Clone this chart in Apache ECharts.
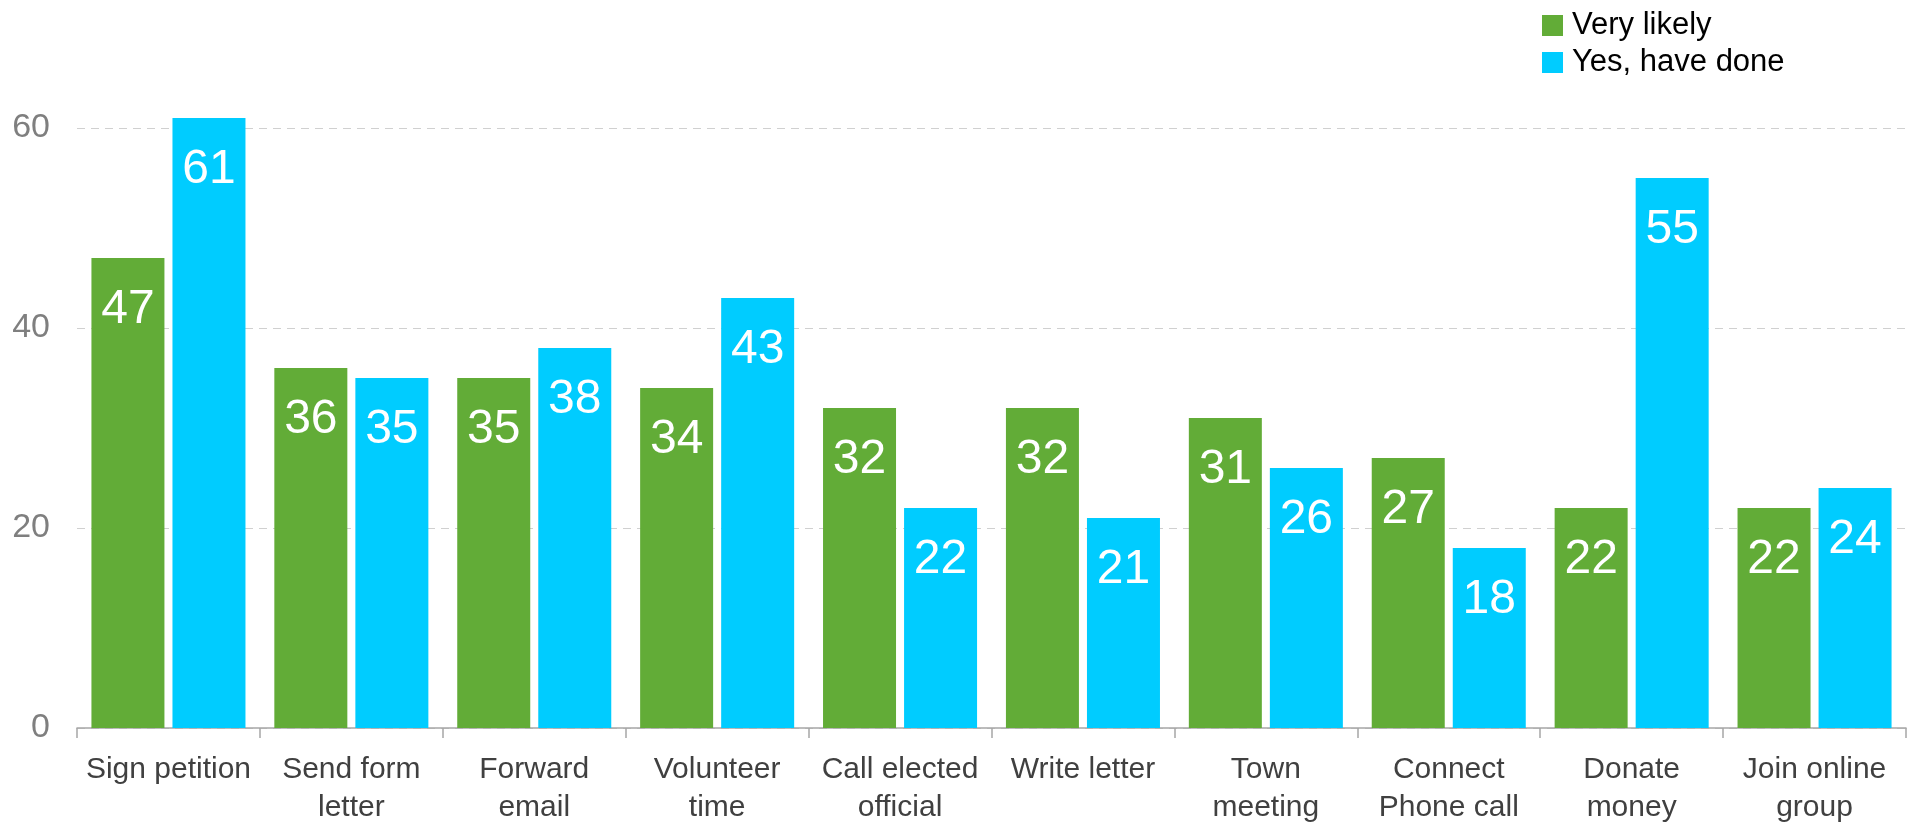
<!DOCTYPE html>
<html>
<head>
<meta charset="utf-8">
<script src="https://cdn.jsdelivr.net/npm/echarts@6/dist/echarts.min.js"></script>
<style>
  html, body { margin: 0; padding: 0; background: #fff; }
  #chart { width: 1913px; height: 824px; }
</style>
</head>
<body>
<div id="chart"></div>
<script>
// 数据
const categories = [
  'Sign petition', 'Send form\nletter', 'Forward\nemail', 'Volunteer\ntime',
  'Call elected\nofficial', 'Write letter', 'Town\nmeeting', 'Connect\nPhone call',
  'Donate\nmoney', 'Join online\ngroup',
]
const veryLikely = [47, 36, 35, 34, 32, 32, 31, 27, 22, 22]
const haveDone = [61, 35, 38, 43, 22, 21, 26, 18, 55, 24]
const seriesNames = ['Very likely', 'Yes, have done']

const font = '"Liberation Sans", Arial, sans-serif'

function renderChart() {
  let myChart = echarts.init(document.getElementById('chart'))
  let barLabel = {
    show: true,
    position: 'insideTop',
    distance: 28,
    color: '#fff',
    fontSize: 48,
    fontFamily: font,
  }
  let option = {
    animation: false,
    legend: {
      orient: 'vertical',
      left: 1537,
      top: 5,
      itemWidth: 21,
      itemHeight: 21,
      itemGap: 6,
      icon: 'rect',
      textStyle: {
        fontSize: 31,
        fontFamily: font,
        color: '#000',
        padding: [0, 0, 0, 4],
      },
      data: seriesNames,
    },
    // 最高到 60，61 那根柱子不裁剪；v6 默认会把标签挤进画布，这里关掉
    grid: { left: 77, right: 7, top: 128, bottom: 96, outerBoundsMode: 'none' },
    xAxis: {
      type: 'category',
      data: categories,
      axisLine: { lineStyle: { color: '#a6a6a6', width: 1.5 } },
      axisTick: { show: true, length: 10, lineStyle: { color: '#a6a6a6', width: 1.5 } },
      axisLabel: {
        color: '#404040',
        fontSize: 30,
        fontFamily: font,
        lineHeight: 38,
        margin: 23,
        interval: 0,
      },
    },
    yAxis: {
      type: 'value',
      min: 0,
      max: 60,
      interval: 20,
      axisLine: { show: false },
      axisTick: { show: false },
      axisLabel: {
        color: '#7f7f7f',
        fontSize: 34,
        fontFamily: font,
        margin: 27,
      },
      splitLine: {
        lineStyle: { type: [8, 6], color: '#d0d0d0', width: 1 },
      },
    },
    series: [
      {
        name: seriesNames[0],
        type: 'bar',
        data: veryLikely,
        barWidth: 73,
        barGap: '11%',
        clip: false,
        itemStyle: { color: '#62ac37' },
        label: barLabel,
      },
      {
        name: seriesNames[1],
        type: 'bar',
        data: haveDone,
        barWidth: 73,
        barGap: '11%',
        clip: false,
        itemStyle: { color: '#00ccff' },
        label: barLabel,
      },
    ],
  }
  myChart.setOption(option)
}

renderChart()
</script>
</body>
</html>
